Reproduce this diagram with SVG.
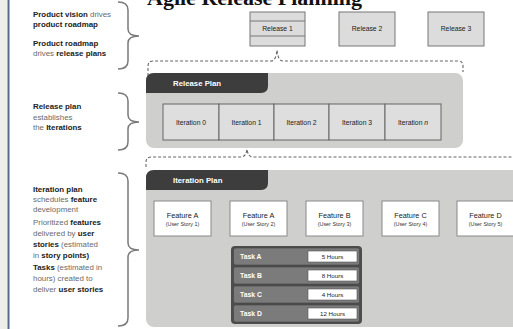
<svg xmlns="http://www.w3.org/2000/svg" width="513" height="329" viewBox="0 0 513 329">
<style>
.note{font-family:"Liberation Sans",Arial,sans-serif;font-size:7.9px;fill:#6a6a6a}
.note .b{font-weight:bold;fill:#222}
.brace{fill:none;stroke:#7a7a7a;stroke-width:1.5}
.dash{fill:none;stroke:#666;stroke-width:1.1;stroke-dasharray:3 2}
.panel{fill:#cfcfcd}
.tab{fill:#3d3d3d}
.tabtxt{font-family:"Liberation Sans",Arial,sans-serif;font-size:7.8px;font-weight:bold;fill:#fff}
.rel{fill:#dcdcdc;stroke:#777;stroke-width:1}
.cell{fill:#dedede;stroke:#666;stroke-width:1}
.lbl{font-family:"Liberation Sans",Arial,sans-serif;font-size:6.8px;fill:#222;text-anchor:middle}
.feat{fill:#fff;stroke:#8a8a8a;stroke-width:1}
.ft{font-family:"Liberation Sans",Arial,sans-serif;font-size:7.3px;fill:#222;text-anchor:middle}
.fs{font-family:"Liberation Sans",Arial,sans-serif;font-size:5.4px;fill:#333;text-anchor:middle}
.row{fill:#7b7b7b;stroke:#444;stroke-width:0.6}
.hrs{fill:#fff;stroke:#555;stroke-width:0.6}
.tt{font-family:"Liberation Sans",Arial,sans-serif;font-size:6.8px;font-weight:bold;fill:#fff}
.ht{font-family:"Liberation Sans",Arial,sans-serif;font-size:6.2px;fill:#222;text-anchor:middle}
</style>
<defs>
<marker id="ah" viewBox="0 0 10 10" refX="9" refY="5" markerWidth="3.5" markerHeight="3.5" orient="auto">
<path d="M0,0 L10,5 L0,10 Z" fill="#777"/>
</marker>
</defs>
<rect width="513" height="329" fill="#fff"/>
<rect x="0" y="0" width="7" height="329" fill="#eeeee8"/>
<line x1="8.5" y1="0" x2="8.5" y2="329" stroke="#56688a" stroke-width="2"/>

<text x="147" y="5" font-family="Liberation Serif,'Times New Roman',serif" font-size="22" font-weight="bold" fill="#111">Agile Release Planning</text>

<g id="notes">
<text class="note" x="33" y="17"><tspan class="b">Product vision</tspan> drives</text>
<text class="note" x="33" y="27"><tspan class="b">product roadmap</tspan></text>
<text class="note" x="33" y="46"><tspan class="b">Product roadmap</tspan></text>
<text class="note" x="33" y="56">drives <tspan class="b">release plans</tspan></text>
<text class="note" x="33" y="109"><tspan class="b">Release plan</tspan></text>
<text class="note" x="33" y="120">establishes</text>
<text class="note" x="33" y="130">the <tspan class="b">Iterations</tspan></text>
<text class="note" x="33" y="192"><tspan class="b">Iteration plan</tspan></text>
<text class="note" x="33" y="202">schedules <tspan class="b">feature</tspan></text>
<text class="note" x="33" y="212">development</text>
<text class="note" x="33" y="225">Prioritized <tspan class="b">features</tspan></text>
<text class="note" x="33" y="236">delivered by <tspan class="b">user</tspan></text>
<text class="note" x="33" y="247"><tspan class="b">stories</tspan> (estimated</text>
<text class="note" x="33" y="258">in <tspan class="b">story points)</tspan></text>
<text class="note" x="33" y="270"><tspan class="b">Tasks</tspan> (estimated in</text>
<text class="note" x="33" y="281">hours) created to</text>
<text class="note" x="33" y="292">deliver <tspan class="b">user stories</tspan></text>
</g>

<g id="braces">
<path class="brace" d="M118,2 Q128,2 128,10 V29 Q128,36 139,36 Q128,36 128,43 V61 Q128,69 118,69"/>
<path class="brace" d="M118,93 Q128,93 128,101 V115 Q128,122 139,122 Q128,122 128,129 V142 Q128,150 118,150"/>
<path class="brace" d="M118,173 Q128,173 128,181 V243 Q128,250 139,250 Q128,250 128,257 V318 Q128,326 118,326"/>
</g>

<g id="releases">
<g id="release1">
<rect class="rel" x="250" y="12" width="55" height="34"/>
<line x1="250" y1="21" x2="305" y2="21" stroke="#777" stroke-width="1"/>
<line x1="250" y1="36" x2="305" y2="36" stroke="#777" stroke-width="1"/>
<text class="lbl" x="277.5" y="31">Release 1</text>
</g>
<g id="release2">
<rect class="rel" x="339" y="12" width="56" height="34"/>
<text class="lbl" x="367" y="31">Release 2</text>
</g>
<g id="release3">
<rect class="rel" x="428" y="12" width="56" height="34"/>
<text class="lbl" x="456" y="31">Release 3</text>
</g>
</g>

<g id="connectors">
<path class="dash" d="M148,76 V66 Q148,61 153,61 H271 Q276,61 277,50 Q278,61 283,61 H458 Q463,61 463,66 V72"/>
<path class="dash" d="M146,167 V162 Q146,157 151,157 H241 Q246,157 247,149 Q248,157 253,157 H513"/>
<path d="M187,236 V246 Q187,252 193,252 H230" fill="none" stroke="#777" stroke-width="2" marker-end="url(#ah)"/>
</g>

<g id="release-plan">
<rect class="panel" x="146" y="73" width="317" height="75" rx="8"/>
<path class="tab" d="M146,81 Q146,73 154,73 H268 V86 Q268,93 261,93 H146 Z"/>
<text class="tabtxt" x="173" y="86">Release Plan</text>
<rect class="cell" x="163" y="104" width="56" height="36"/>
<rect class="cell" x="219" y="104" width="55" height="36"/>
<rect class="cell" x="274" y="104" width="55" height="36"/>
<rect class="cell" x="329" y="104" width="56" height="36"/>
<rect class="cell" x="385" y="104" width="56" height="36"/>
<text class="lbl" x="191" y="124.5">Iteration 0</text>
<text class="lbl" x="246.5" y="124.5">Iteration 1</text>
<text class="lbl" x="301.5" y="124.5">Iteration 2</text>
<text class="lbl" x="357" y="124.5">Iteration 3</text>
<text class="lbl" x="413" y="124.5">Iteration <tspan font-style="italic">n</tspan></text>
</g>

<g id="iteration-plan">
<rect class="panel" x="146" y="170" width="380" height="157" rx="8"/>
<path class="tab" d="M146,178 Q146,170 154,170 H268 V183 Q268,190 261,190 H146 Z"/>
<text class="tabtxt" x="173" y="183">Iteration Plan</text>
</g>

<g id="features">
<g id="feature1"><rect class="feat" x="154" y="201" width="57" height="35"/><text class="ft" x="182.5" y="218">Feature A</text><text class="fs" x="182.5" y="226">(User Story 1)</text></g>
<g id="feature2"><rect class="feat" x="230" y="201" width="57" height="35"/><text class="ft" x="258.5" y="218">Feature A</text><text class="fs" x="258.5" y="226">(User Story 2)</text></g>
<g id="feature3"><rect class="feat" x="306" y="201" width="57" height="35"/><text class="ft" x="334.5" y="218">Feature B</text><text class="fs" x="334.5" y="226">(User Story 3)</text></g>
<g id="feature4"><rect class="feat" x="382" y="201" width="57" height="35"/><text class="ft" x="410.5" y="218">Feature C</text><text class="fs" x="410.5" y="226">(User Story 4)</text></g>
<g id="feature5"><rect class="feat" x="457" y="201" width="57" height="35"/><text class="ft" x="485.5" y="218">Feature D</text><text class="fs" x="485.5" y="226">(User Story 5)</text></g>
</g>

<g id="tasks">
<rect x="231" y="246" width="131" height="78" rx="4" fill="#4d4d4d"/>
<rect class="row" x="233.5" y="248" width="126" height="17" rx="2"/>
<rect class="row" x="233.5" y="267" width="126" height="17" rx="2"/>
<rect class="row" x="233.5" y="286" width="126" height="17" rx="2"/>
<rect class="row" x="233.5" y="305" width="126" height="17" rx="2"/>
<rect class="hrs" x="308" y="251" width="49" height="11"/>
<rect class="hrs" x="308" y="270" width="49" height="11"/>
<rect class="hrs" x="308" y="289" width="49" height="11"/>
<rect class="hrs" x="308" y="308" width="49" height="11"/>
<text class="tt" x="240" y="259">Task A</text>
<text class="tt" x="240" y="278">Task B</text>
<text class="tt" x="240" y="297">Task C</text>
<text class="tt" x="240" y="316">Task D</text>
<text class="ht" x="332.5" y="259">5 Hours</text>
<text class="ht" x="332.5" y="278">8 Hours</text>
<text class="ht" x="332.5" y="297">4 Hours</text>
<text class="ht" x="332.5" y="316">12 Hours</text>
</g>
</svg>
